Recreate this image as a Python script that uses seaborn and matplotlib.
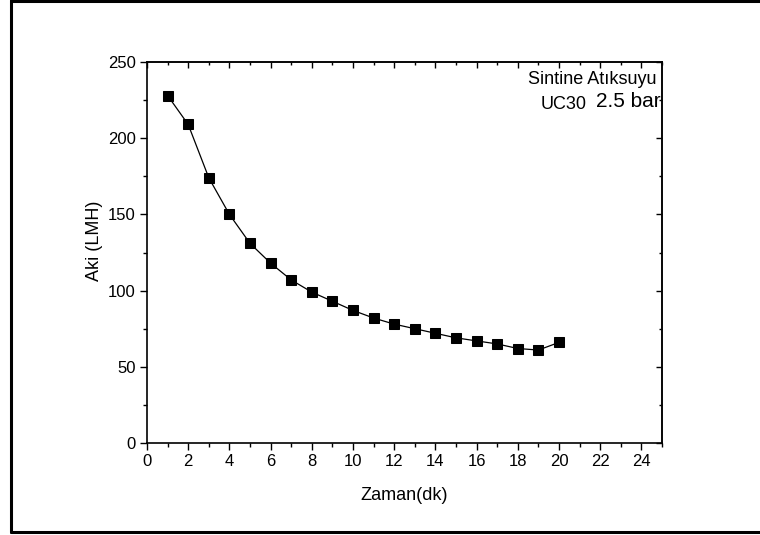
import matplotlib
matplotlib.use("Agg")
import matplotlib.pyplot as plt
import seaborn as sns
import pandas as pd
from matplotlib.ticker import MultipleLocator, NullFormatter

time_min = [1, 2, 3, 4, 5, 6, 7, 8, 9, 10, 11, 12, 13, 14, 15, 16, 17, 18, 19, 20]
flux_lmh = [228, 209, 174, 150, 131, 118, 107, 99, 93, 87, 82, 78, 75, 72, 69, 67, 65, 62, 61, 66]

sns.set_theme(style="white")
plt.rcParams['font.family'] = ['Liberation Sans', 'DejaVu Sans']

df = pd.DataFrame({"Zaman": time_min, "Aki": flux_lmh})

fig = plt.figure(figsize=(7.6, 5.35), dpi=100)

# outer frame (left, top, bottom)
for xs, ys in [([11/760, 11/760], [1 - 532/535, 1.0]),
               ([11/760, 1.0], [1 - 1/535, 1 - 1/535]),
               ([11/760, 1.0], [1 - 532/535, 1 - 532/535])]:
    fig.add_artist(plt.Line2D(xs, ys, color='black', lw=2.2, transform=fig.transFigure))

ax = fig.add_axes([147/760, 1 - 443/535, (662 - 147)/760, (443 - 62)/535])

sns.lineplot(data=df, x="Zaman", y="Aki", ax=ax, color='black', lw=0.9,
             marker='s', markersize=7, markeredgecolor='black', markerfacecolor='black')

ax.set_xlim(0, 25)
ax.set_ylim(0, 250)
ax.xaxis.set_major_locator(MultipleLocator(2))
ax.xaxis.set_minor_locator(MultipleLocator(1))
ax.yaxis.set_major_locator(MultipleLocator(50))
ax.yaxis.set_minor_locator(MultipleLocator(25))

for s in ax.spines.values():
    s.set_color('black')
    s.set_linewidth(1.2)

ax.tick_params(which='both', direction='out', color='black', width=1.0,
               bottom=True, left=True, top=False, right=False,
               labelsize=12, labelcolor='black', pad=3)
ax.tick_params(which='major', length=5)
ax.tick_params(which='minor', length=3)

# inward ticks on top and right
top = ax.secondary_xaxis('top')
top.xaxis.set_major_locator(MultipleLocator(2))
top.xaxis.set_minor_locator(MultipleLocator(1))
top.xaxis.set_major_formatter(NullFormatter())
top.tick_params(which='both', direction='in', color='black', width=1.0)
top.tick_params(which='major', length=4)
top.tick_params(which='minor', length=2.5)
top.spines['top'].set_linewidth(1.2)
right = ax.secondary_yaxis('right')
right.yaxis.set_major_locator(MultipleLocator(50))
right.yaxis.set_minor_locator(MultipleLocator(25))
right.yaxis.set_major_formatter(NullFormatter())
right.tick_params(which='both', direction='in', color='black', width=1.0)
right.tick_params(which='major', length=4)
right.tick_params(which='minor', length=2.5)
right.spines['right'].set_linewidth(1.2)

ax.set_xlabel("Zaman(dk)", fontsize=13, color='black', labelpad=13)
ax.set_ylabel("Aki (LMH)", fontsize=13, color='black')
ax.yaxis.set_label_coords(-0.085, 0.53)

ax.text(18.5, 238.5, "Sintine Atıksuyu", fontsize=13, ha='left', va='center', color='black')
ax.text(19.1, 222, "UC30", fontsize=13, ha='left', va='center', color='black')
ax.text(21.8, 224, "2.5 bar", fontsize=15, ha='left', va='center', color='black', clip_on=True)

fig.savefig("out.png", dpi=100)
